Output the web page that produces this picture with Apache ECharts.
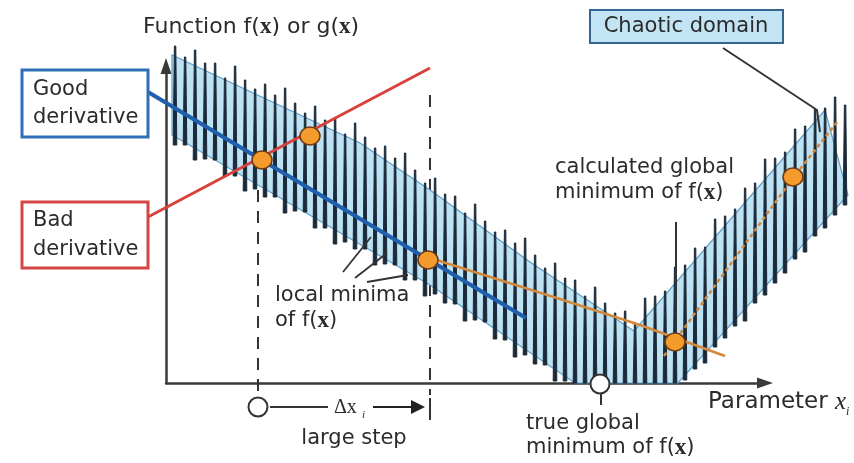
<!DOCTYPE html>
<html><head><meta charset="utf-8">
<script src="https://cdn.jsdelivr.net/npm/echarts@6/dist/echarts.min.js"></script>
<style>html,body{margin:0;padding:0;background:#fff}#c{width:854px;height:463px}</style>
</head><body><div id="c"></div>
<script>
// ---- data (parameter x on the horizontal axis, function value on the vertical axis) ----
const spikeX = [9,19,29,39,49,59,69,79,89,99,109,119,129,139,149,159,169,179,189,199,209,219,229,239,249,259,269,279,289,299,309,319,329,339,349,359,369,379,389,399,409,419,429,439,449,459,469,479,489,499,509,519,529,539,549,559,569,579,589,599,609,619,629,639,649,659,669,679];
const spikePeak = [337,326,333,320,320,305,317,303,294,299,288,295,280,270,277,263,264,249,260,246,235,237,225,230,213,200,205,189,187,170,179,162,151,153,140,145,128,115,120,105,103,87,96,80,70,72,60,85,87,92,116,118,135,136,164,167,174,195,200,224,225,231,254,257,274,275,286,278];
const spikeTrough = [238,238,223,224,223,207,207,192,194,186,186,170,172,171,155,155,139,141,134,134,118,119,118,103,103,87,89,80,79,62,63,61,44,43,26,28,19,18,2,2,0,0,0,0,0,0,0,0,0,0,0,3,14,20,36,45,57,62,80,88,100,110,124,131,147,155,168,178];

const bandX = [6,194,264,364,468,659,682,512,409,264,6];
const bandY = [328,240,193,121,52,273,188,0,0,98,248];

const goodX = [-18,360], goodY = [291,65];
const badX = [-18,264], badY = [166,315];
const trendLeftX = [264,394,474,559], trendLeftY = [125,84,58,27];
const trendRightX = [498,627,672], trendRightY = [27,205,262];

const orangeX = [96,144,262,509,627], orangeY = [223,247,123,41,206];
const whiteX = [434,92], whiteY = [-1,-24];

const guide1X = [92,92], guide1Y = [235,-12];
const guide2X = [264,264], guide2Y = [288,-12];
const stepBarX = [264,264], stepBarY = [-15,-37];
const stepSeg1X = [104,162], stepSeg1Y = [-24,-24];
const stepSeg2X = [207,252], stepSeg2Y = [-24,-24];

const leaderTrueX = [435,435], leaderTrueY = [-6,-22];
const leaderCalcX = [510,510], leaderCalcY = [161,53];
const leaderChaosX = [557,651,654], leaderChaosY = [335,273,251];
const leaderLoc1X = [177,205], leaderLoc1Y = [111,146];
const leaderLoc2X = [189,221], leaderLoc2Y = [105,130];
const leaderLoc3X = [201,242], leaderLoc3Y = [101,108];

// ---- chart ----
const zip = (xs, ys) => xs.map((x, i) => [x, ys[i]]);
const chart = echarts.init(document.getElementById('c'), null, {renderer: 'canvas'});
const TXT = '#2b2b2b';
const FONT = 'DejaVu Sans';

function poly(name, xs, ys, color, width, dash, z) {
  return {type: 'custom', name: name, z: z, clip: false, silent: true, data: [[xs[0], ys[0]]],
    renderItem: function (params, api) {
      return {type: 'polyline', shape: {points: xs.map((x, i) => api.coord([x, ys[i]]))},
        style: {fill: null, stroke: color, lineWidth: width, lineDash: dash || null, lineCap: 'butt', lineJoin: 'round'}};
    }};
}
function txt(text, x, y, size, extra) {
  return {type: 'text', z: 100, style: Object.assign({text: text, x: x, y: y, fontSize: size, fontFamily: FONT,
    fill: TXT, textVerticalAlign: 'middle', verticalAlign: 'middle', textAlign: 'left', align: 'left'}, extra || {})};
}
const richX = {b: {fontFamily: 'Liberation Serif', fontWeight: 'bold', fontSize: 23, fill: TXT, color: TXT},
  i: {fontFamily: 'Liberation Serif', fontStyle: 'italic', fontSize: 25, fill: TXT, color: TXT}};

const option = {
  animation: false,
  grid: {left: 166, right: 89, top: 66, bottom: 80},
  xAxis: {type: 'value', min: 0, max: 599, splitLine: {show: false}, axisTick: {show: false}, axisLabel: {show: false},
    axisLine: {onZero: false, lineStyle: {color: '#3a3a3a', width: 2.5}, symbol: ['none', 'triangle'], symbolSize: [11, 16]}},
  yAxis: {type: 'value', min: 0, max: 317, splitLine: {show: false}, axisTick: {show: false}, axisLabel: {show: false},
    axisLine: {onZero: false, lineStyle: {color: '#3a3a3a', width: 2.5}, symbol: ['none', 'triangle'], symbolSize: [11, 16]}},
  series: [
    poly('guide1', guide1X, guide1Y, '#333', 2, [12, 9], 1),
    poly('guide2', guide2X, guide2Y, '#333', 2, [12, 9], 1),
    {type: 'custom', name: 'band', z: 2, clip: false, silent: true, data: [[bandX[0], bandY[0]]],
      renderItem: function (params, api) {
        return {type: 'polygon', shape: {points: bandX.map((x, i) => api.coord([x, bandY[i]]))},
          style: {fill: '#bde2f4', stroke: '#5b9dcb', lineWidth: 1.2}};
      }},
    {type: 'custom', name: 'spikes', z: 3, clip: false, silent: true,
      data: spikeX.map((x, i) => [x, spikePeak[i], spikeTrough[i]]),
      encode: {x: 0, y: [1, 2]},
      renderItem: function (params, api) {
        const x = api.value(0);
        const p = api.coord([x, api.value(1)]);
        const b = api.coord([x, api.value(2)]);
        return {type: 'polygon', shape: {points: [[b[0] - 1.8, b[1]], [p[0] - 0.6, p[1]], [p[0] + 0.8, p[1]], [b[0] + 1.8, b[1]]]},
          style: {fill: '#1a2a38', stroke: '#1a2a38', lineWidth: 1, lineJoin: 'miter'}};
      }},
    poly('good', goodX, goodY, '#1f5fae', 4, null, 5),
    poly('bad', badX, badY, '#d9423c', 3, null, 5),
    poly('trendL', trendLeftX, trendLeftY, '#d4883c', 2.5, null, 6),
    poly('trendR', trendRightX, trendRightY, '#d4883c', 2.5, [4, 3], 6),
    poly('lt', leaderTrueX, leaderTrueY, '#333', 2, null, 6),
    poly('lc', leaderCalcX, leaderCalcY, '#333', 2, null, 6),
    poly('lch', leaderChaosX, leaderChaosY, '#333', 2, null, 6),
    poly('l1', leaderLoc1X, leaderLoc1Y, '#333', 1.8, null, 6),
    poly('l2', leaderLoc2X, leaderLoc2Y, '#333', 1.8, null, 6),
    poly('l3', leaderLoc3X, leaderLoc3Y, '#333', 1.8, null, 6),
    poly('bar', stepBarX, stepBarY, '#333', 2, null, 6),
    poly('seg1', stepSeg1X, stepSeg1Y, '#333', 2, null, 6),
    {type: 'lines', coordinateSystem: 'cartesian2d', z: 6, clip: false, silent: true,
      symbol: ['none', 'triangle'], symbolSize: 14,
      lineStyle: {color: '#222', width: 2, opacity: 1},
      data: [{coords: zip(stepSeg2X, stepSeg2Y)}]},
    {type: 'scatter', name: 'orange', z: 8, clip: false, silent: true, data: zip(orangeX, orangeY),
      symbol: 'circle', symbolSize: [20, 18],
      itemStyle: {color: '#f39b2d', borderColor: '#6e3b10', borderWidth: 1.5, opacity: 1}},
    {type: 'scatter', name: 'white', z: 8, clip: false, silent: true, data: zip(whiteX, whiteY),
      symbol: 'circle', symbolSize: 19,
      itemStyle: {color: '#ffffff', borderColor: '#333', borderWidth: 2, opacity: 1}}
  ],
  graphic: [
    {type: 'rect', z: 50, shape: {x: 22, y: 70, width: 126, height: 67}, style: {fill: '#fff', stroke: '#2f6fb8', lineWidth: 3}},
    {type: 'rect', z: 50, shape: {x: 22, y: 202, width: 126, height: 66}, style: {fill: '#fff', stroke: '#d64545', lineWidth: 3}},
    {type: 'rect', z: 50, shape: {x: 590, y: 10, width: 193, height: 33}, style: {fill: '#c3e4f5', stroke: '#35658f', lineWidth: 2}},
    txt('Function f({b|x}) or g({b|x})', 143, 27, 22, {rich: richX}),
    txt('Good', 33, 90, 21),
    txt('derivative', 33, 118, 21),
    txt('Bad', 33, 221, 21),
    txt('derivative', 33, 250, 21),
    txt('Chaotic domain', 686, 27, 21, {textAlign: 'center', align: 'center'}),
    txt('local minima', 275, 296, 21),
    txt('of f({b|x})', 275, 321, 21, {rich: richX}),
    txt('calculated global', 555, 168, 21),
    txt('minimum of f({b|x})', 555, 193, 21, {rich: richX}),
    txt('true global', 526, 424, 21),
    txt('minimum of f({b|x})', 526, 448, 21, {rich: richX}),
    txt('large step', 354, 439, 21, {textAlign: 'center', align: 'center'}),
    txt('Parameter {i|x}', 708, 402, 23, {rich: richX}),
    txt('i', 846, 412, 12, {fontFamily: 'Liberation Serif', fontStyle: 'italic'}),
    txt('Δx', 334, 408, 20, {fontFamily: 'Liberation Serif'}),
    txt('i', 362, 415, 11, {fontFamily: 'Liberation Serif', fontStyle: 'italic'})
  ]
};
chart.setOption(option);
</script>
</body></html>
